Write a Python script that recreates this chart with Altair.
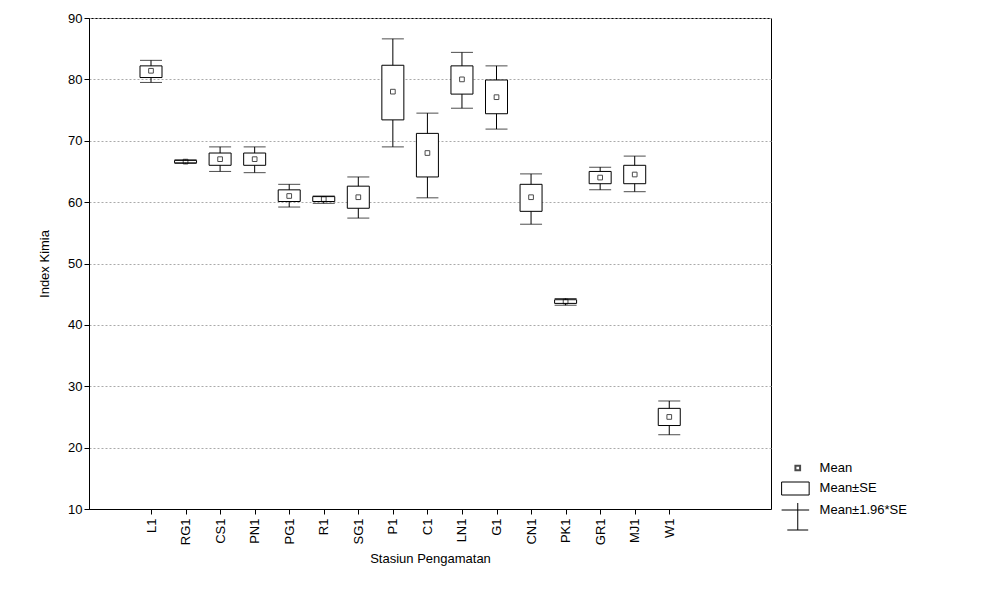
import pandas as pd
import altair as alt

stations = ["L1", "RG1", "CS1", "PN1", "PG1", "R1", "SG1", "P1", "C1", "LN1",
            "G1", "CN1", "PK1", "GR1", "MJ1", "W1"]
mean = [81.4, 66.6, 67.0, 67.0, 61.0, 60.5, 60.8, 78.0, 68.0, 80.0,
        77.1, 60.8, 43.8, 64.0, 64.5, 25.0]
se_lo = [80.3, 66.4, 66.0, 66.0, 60.1, 60.1, 59.0, 73.4, 64.1, 77.6,
         74.4, 58.5, 43.5, 63.0, 63.0, 23.6]
se_hi = [82.2, 66.8, 68.0, 68.0, 62.0, 60.9, 62.6, 82.3, 71.2, 82.2,
         79.9, 62.9, 44.1, 65.0, 66.0, 26.4]
ci_lo = [79.5, 66.3, 65.0, 64.8, 59.2, 59.8, 57.4, 69.0, 60.7, 75.3,
         71.9, 56.4, 43.2, 62.0, 61.7, 22.1]
ci_hi = [83.1, 66.9, 69.0, 69.0, 62.9, 61.0, 64.1, 86.6, 74.5, 84.4,
         82.2, 64.6, 44.3, 65.7, 67.5, 27.6]

df = pd.DataFrame({"idx": range(len(stations)), "station": stations, "mean": mean,
                   "se_lo": se_lo, "se_hi": se_hi, "ci_lo": ci_lo, "ci_hi": ci_hi})

label_expr = "[" + ",".join(f"'{s}'" for s in stations) + "][datum.value]"
x = alt.X("idx:Q", scale=alt.Scale(domain=[-1.65, 17.8], nice=False, zero=False),
          axis=alt.Axis(values=list(range(len(stations))), labelExpr=label_expr,
                        labelAngle=-90, grid=False, title="Stasiun Pengamatan",
                        tickColor="black", domainColor="black", labelColor="black",
                        labelFontSize=13, titleFontSize=13, titleFontWeight="normal",
                        titlePadding=8, labelPadding=4))
yscale = alt.Scale(domain=[10, 90], nice=False, zero=False)

base = alt.Chart(df)
whisk = base.mark_rule(color="black").encode(
    x=x,
    y=alt.Y("ci_lo:Q", scale=yscale,
            axis=alt.Axis(values=list(range(10, 91, 10)), title="Index Kimia",
                          gridDash=[2, 2], gridColor="#aaaaaa", tickColor="black",
                          domainColor="black", labelColor="black", labelFontSize=13,
                          titleFontSize=13, titleFontWeight="normal", titlePadding=16)),
    y2="ci_hi:Q")
cap_lo = base.mark_tick(color="black", orient="horizontal", size=22, thickness=1).encode(
    x="idx:Q", y="ci_lo:Q")
cap_hi = base.mark_tick(color="black", orient="horizontal", size=22, thickness=1).encode(
    x="idx:Q", y="ci_hi:Q")
box = base.mark_bar(fill="white", stroke="black", strokeWidth=1, size=22).encode(
    x="idx:Q", y="se_lo:Q", y2="se_hi:Q")
pts = base.mark_point(shape="square", size=22, color="black", filled=False, strokeWidth=1).encode(
    x="idx:Q", y="mean:Q")

main = alt.layer(whisk, cap_lo, cap_hi, box, pts).properties(width=682, height=491)

# legend panel (pixel-like coordinates, y measured downward)
lx = alt.Scale(domain=[0, 200], nice=False)
ly = alt.Scale(domain=[0, 491], nice=False, reverse=True)
leg_df = pd.DataFrame({"kind": ["pt", "box", "wh"], "yy": [450, 470, 498]})
lb = alt.Chart(leg_df)
leg_pt = lb.transform_filter("datum.kind=='pt'").transform_calculate(xx="25").mark_point(
    shape="square", size=22, color="black", filled=False).encode(
    x=alt.X("xx:Q", scale=lx, axis=None), y=alt.Y("yy:Q", scale=ly, axis=None))
leg_box = lb.transform_filter("datum.kind=='box'").transform_calculate(
    x1="8", x2="37", y1="datum.yy-6", y2="datum.yy+7").mark_rect(
    fill="white", stroke="black").encode(
    x=alt.X("x1:Q", scale=lx, axis=None), x2="x2:Q",
    y=alt.Y("y1:Q", scale=ly, axis=None), y2="y2:Q")
leg_wh = lb.transform_filter("datum.kind=='wh'").transform_calculate(
    xm="25", y1="datum.yy-13", y2="datum.yy+14").mark_rule(color="black").encode(
    x=alt.X("xm:Q", scale=lx, axis=None),
    y=alt.Y("y1:Q", scale=ly, axis=None), y2="y2:Q")
leg_cap1 = lb.transform_filter("datum.kind=='wh'").transform_calculate(
    x1="8", x2="37", y1="datum.yy-6").mark_rule(color="black").encode(
    x=alt.X("x1:Q", scale=lx, axis=None), x2="x2:Q", y=alt.Y("y1:Q", scale=ly, axis=None))
leg_cap2 = lb.transform_filter("datum.kind=='wh'").transform_calculate(
    x1="14", x2="36", y1="datum.yy+14").mark_rule(color="black").encode(
    x=alt.X("x1:Q", scale=lx, axis=None), x2="x2:Q", y=alt.Y("y1:Q", scale=ly, axis=None))
leg_text = alt.Chart(pd.DataFrame({"label": ["Mean", "Mean±SE", "Mean±1.96*SE"],
                                   "yy": [450, 470, 492]})).transform_calculate(
    xx="48").mark_text(align="left", fontSize=13, color="black").encode(
    x=alt.X("xx:Q", scale=lx, axis=None), y=alt.Y("yy:Q", scale=ly, axis=None), text="label:N")
legend = alt.layer(leg_pt, leg_box, leg_wh, leg_cap1, leg_cap2, leg_text).properties(
    width=190, height=491, view=alt.ViewConfig(stroke=None))

chart = alt.hconcat(main, legend, spacing=2).configure(
    font="Liberation Sans").configure_view(stroke="black").configure_axis(
    labelFont="Liberation Sans", titleFont="Liberation Sans").properties(
    background="white", padding={"left": 30, "top": 3, "right": 0, "bottom": 0})

chart.save("out.html", embed_options={"renderer": "svg", "actions": False})
